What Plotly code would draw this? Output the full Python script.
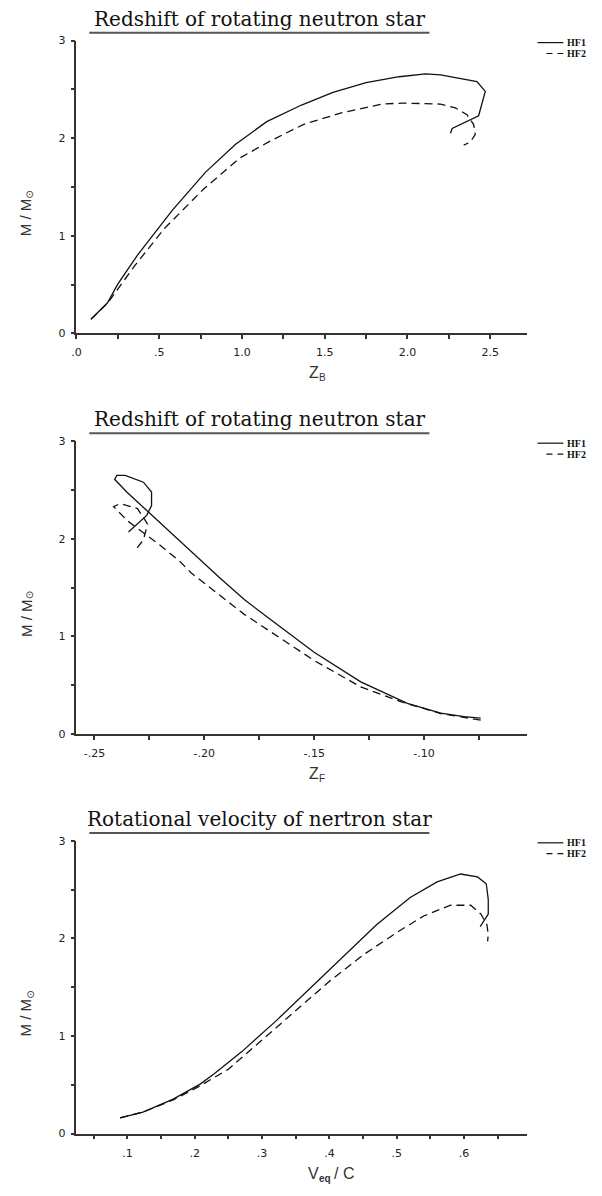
import plotly.graph_objects as go

# ---------------- data ----------------
# Panel 1: M/Msun vs Z_B
zb_hf1 = [0.088, 0.188, 0.248, 0.368, 0.579, 0.779, 0.96, 1.15, 1.36, 1.55, 1.75, 1.95, 2.11, 2.20, 2.42, 2.47, 2.43, 2.27, 2.26]
m_zb_hf1 = [0.145, 0.314, 0.50, 0.80, 1.26, 1.65, 1.935, 2.17, 2.34, 2.47, 2.57, 2.63, 2.66, 2.65, 2.58, 2.48, 2.23, 2.10, 2.05]
zb_hf2 = [0.088, 0.188, 0.349, 0.529, 0.769, 0.99, 1.17, 1.37, 1.60, 1.85, 1.97, 2.20, 2.29, 2.36, 2.40, 2.41, 2.38, 2.34]
m_zb_hf2 = [0.145, 0.31, 0.686, 1.07, 1.48, 1.80, 1.97, 2.14, 2.26, 2.35, 2.36, 2.35, 2.31, 2.24, 2.14, 2.04, 1.96, 1.93]

# Panel 2: M/Msun vs Z_F
zf_hf1 = [-0.0742, -0.0818, -0.0924, -0.1076, -0.1288, -0.150, -0.175, -0.1818, -0.193, -0.207, -0.222, -0.2353, -0.2408, -0.2398, -0.236, -0.2277, -0.224, -0.224, -0.2262, -0.2345]
m_zf_hf1 = [0.162, 0.179, 0.213, 0.314, 0.534, 0.838, 1.26, 1.378, 1.60, 1.89, 2.20, 2.48, 2.61, 2.65, 2.65, 2.58, 2.48, 2.34, 2.24, 2.07]
zf_hf2 = [-0.0742, -0.0924, -0.1106, -0.1288, -0.150, -0.1818, -0.2059, -0.2112, -0.221, -0.2347, -0.2413, -0.2383, -0.2304, -0.2258, -0.2277, -0.2315]
m_zf_hf2 = [0.142, 0.21, 0.331, 0.483, 0.753, 1.226, 1.65, 1.77, 1.95, 2.18, 2.33, 2.36, 2.31, 2.15, 1.99, 1.88]

# Panel 3: M/Msun vs V_eq/c
v_hf1 = [0.089, 0.123, 0.168, 0.208, 0.228, 0.27, 0.32, 0.37, 0.42, 0.47, 0.52, 0.56, 0.595, 0.620, 0.633, 0.636, 0.636, 0.630, 0.624]
m_v_hf1 = [0.162, 0.22, 0.354, 0.507, 0.608, 0.84, 1.15, 1.48, 1.82, 2.14, 2.42, 2.58, 2.66, 2.63, 2.56, 2.40, 2.25, 2.18, 2.12]
v_hf2 = [0.089, 0.123, 0.168, 0.208, 0.25, 0.30, 0.35, 0.40, 0.45, 0.50, 0.54, 0.58, 0.61, 0.625, 0.634, 0.636, 0.635]
m_v_hf2 = [0.162, 0.22, 0.345, 0.49, 0.66, 0.96, 1.27, 1.56, 1.83, 2.06, 2.23, 2.34, 2.34, 2.25, 2.14, 2.04, 1.97]

titles = ["Redshift of rotating neutron star", "Redshift of rotating neutron star", "Rotational velocity of nertron star"]
series_names = ["HF1", "HF2"]

x_ranges = [[0, 2.72], [-0.2582, -0.0533], [0.0242, 0.693]]
x_tickvals = [[0, 0.5, 1.0, 1.5, 2.0, 2.5], [-0.25, -0.20, -0.15, -0.10], [0.1, 0.2, 0.3, 0.4, 0.5, 0.6]]
x_ticktext = [[".0", ".5", "1.0", "1.5", "2.0", "2.5"], ["-.25", "-.20", "-.15", "-.10"], [".1", ".2", ".3", ".4", ".5", ".6"]]
x_minor = [0.25, 0.025, 0.05]
# axis titles: (main symbol, subscript, trailing text)
x_title_parts = [("Z", "B", ""), ("Z", "F", ""), ("V", "eq", "/ C")]
y_title_parts = ("M / M", "⊙")
y_tickvals = [0, 1, 2, 3]
y_ticktext = ["0", "1", "2", "3"]

# ---------------- layout geometry ----------------
W, H = 602, 1196
x_left, x_right = 72, 526
axis_bottoms = [331, 736, 1140]
axis_height = 296

def py(p):
    return 1 - p / H

def px(p):
    return p / W

fig = go.Figure()

panels = [
    (zb_hf1, m_zb_hf1, zb_hf2, m_zb_hf2),
    (zf_hf1, m_zf_hf1, zf_hf2, m_zf_hf2),
    (v_hf1, m_v_hf1, v_hf2, m_v_hf2),
]

line_col = "#111111"
axis_col = "#333333"
label_col = "#333333"
sans = "Liberation Sans, DejaVu Sans, sans-serif"
tick_font = dict(family="DejaVu Sans, Liberation Sans, sans-serif", size=11, color="#222222")


def add_text(text, x, y, size, xanchor="center", yanchor="middle", angle=0, family=sans, color=label_col, weight="normal"):
    fig.add_annotation(text=text, x=px(x), y=py(y), xref="paper", yref="paper",
                       xanchor=xanchor, yanchor=yanchor, showarrow=False, textangle=angle,
                       borderpad=0, font=dict(family=family, size=size, color=color, weight=weight))


for i, (x1, y1, x2, y2) in enumerate(panels):
    n = i + 1
    xa = "x" if n == 1 else f"x{n}"
    ya = "y" if n == 1 else f"y{n}"
    fig.add_trace(go.Scatter(x=x1, y=y1, mode="lines", name=series_names[0], xaxis=xa, yaxis=ya,
                             line=dict(color=line_col, width=1.3), showlegend=False))
    fig.add_trace(go.Scatter(x=x2, y=y2, mode="lines", name=series_names[1], xaxis=xa, yaxis=ya,
                             line=dict(color=line_col, width=1.3, dash="8px,5px"), showlegend=False))

    bottom = axis_bottoms[i]
    top = bottom - axis_height
    xkey = "xaxis" if n == 1 else f"xaxis{n}"
    ykey = "yaxis" if n == 1 else f"yaxis{n}"
    fig.update_layout(**{
        xkey: dict(domain=[px(x_left), px(x_right)], anchor=ya, range=x_ranges[i],
                   tickvals=x_tickvals[i], ticktext=x_ticktext[i],
                   showline=True, linecolor=axis_col, linewidth=1.5,
                   ticks="outside", ticklen=4, tickwidth=1.5, tickcolor=axis_col,
                   minor=dict(dtick=x_minor[i], tick0=0, ticks="outside", ticklen=4, tickwidth=1.5, tickcolor=axis_col),
                   showgrid=False, zeroline=False, tickfont=tick_font, ticklabelstandoff=4,
                   fixedrange=True),
        ykey: dict(domain=[py(bottom), py(top)], anchor=xa, range=[0, 3],
                   tickvals=y_tickvals, ticktext=y_ticktext,
                   showline=True, linecolor=axis_col, linewidth=1.5,
                   ticks="outside", ticklen=4, tickwidth=1.5, tickcolor=axis_col,
                   minor=dict(dtick=0.5, tick0=0, ticks="outside", ticklen=4, tickwidth=1.5, tickcolor=axis_col),
                   showgrid=False, zeroline=False, tickfont=tick_font, ticklabelstandoff=3,
                   fixedrange=True),
    })

    # x axis title (symbol + subscript + trailing text)
    main, sub, tail = x_title_parts[i]
    add_text(main, 318, bottom + 40, 16, xanchor="right")
    add_text(sub, 316, bottom + 45, 10, xanchor="left", weight="bold" if len(sub) > 1 else "normal")
    if tail:
        add_text(tail, 331, bottom + 40, 16, xanchor="left")

    # y axis title, rotated (reads bottom-to-top)
    add_text(y_title_parts[0], 21, bottom - 97, 15, yanchor="bottom", angle=-90)
    add_text(y_title_parts[1], 25, bottom - 135, 10, yanchor="bottom", angle=-90)

    # panel title with underline
    add_text(titles[i], 257, top - 22, 20, family="DejaVu Serif, Liberation Serif, serif", color="#111111")
    fig.add_shape(type="line", xref="paper", yref="paper", x0=px(85), x1=px(428),
                  y0=py(top - 8), y1=py(top - 8), line=dict(color="#555555", width=2))

    # legend (HF1 solid, HF2 dashed)
    for k, (name, dash, x0) in enumerate([(series_names[0], "solid", 537), (series_names[1], "6px,5px", 546)]):
        yy = top + 2 + k * 11
        fig.add_shape(type="line", xref="paper", yref="paper", x0=px(x0), x1=px(563),
                      y0=py(yy), y1=py(yy), line=dict(color=line_col, width=1.2, dash=dash))
        add_text(name, 566, yy, 10, xanchor="left", family="Liberation Serif, DejaVu Serif, serif",
                 color="#111111", weight="bold")

fig.update_layout(width=W, height=H, margin=dict(l=0, r=0, t=0, b=0),
                  paper_bgcolor="white", plot_bgcolor="white", showlegend=False)

fig.write_html("out.html")
